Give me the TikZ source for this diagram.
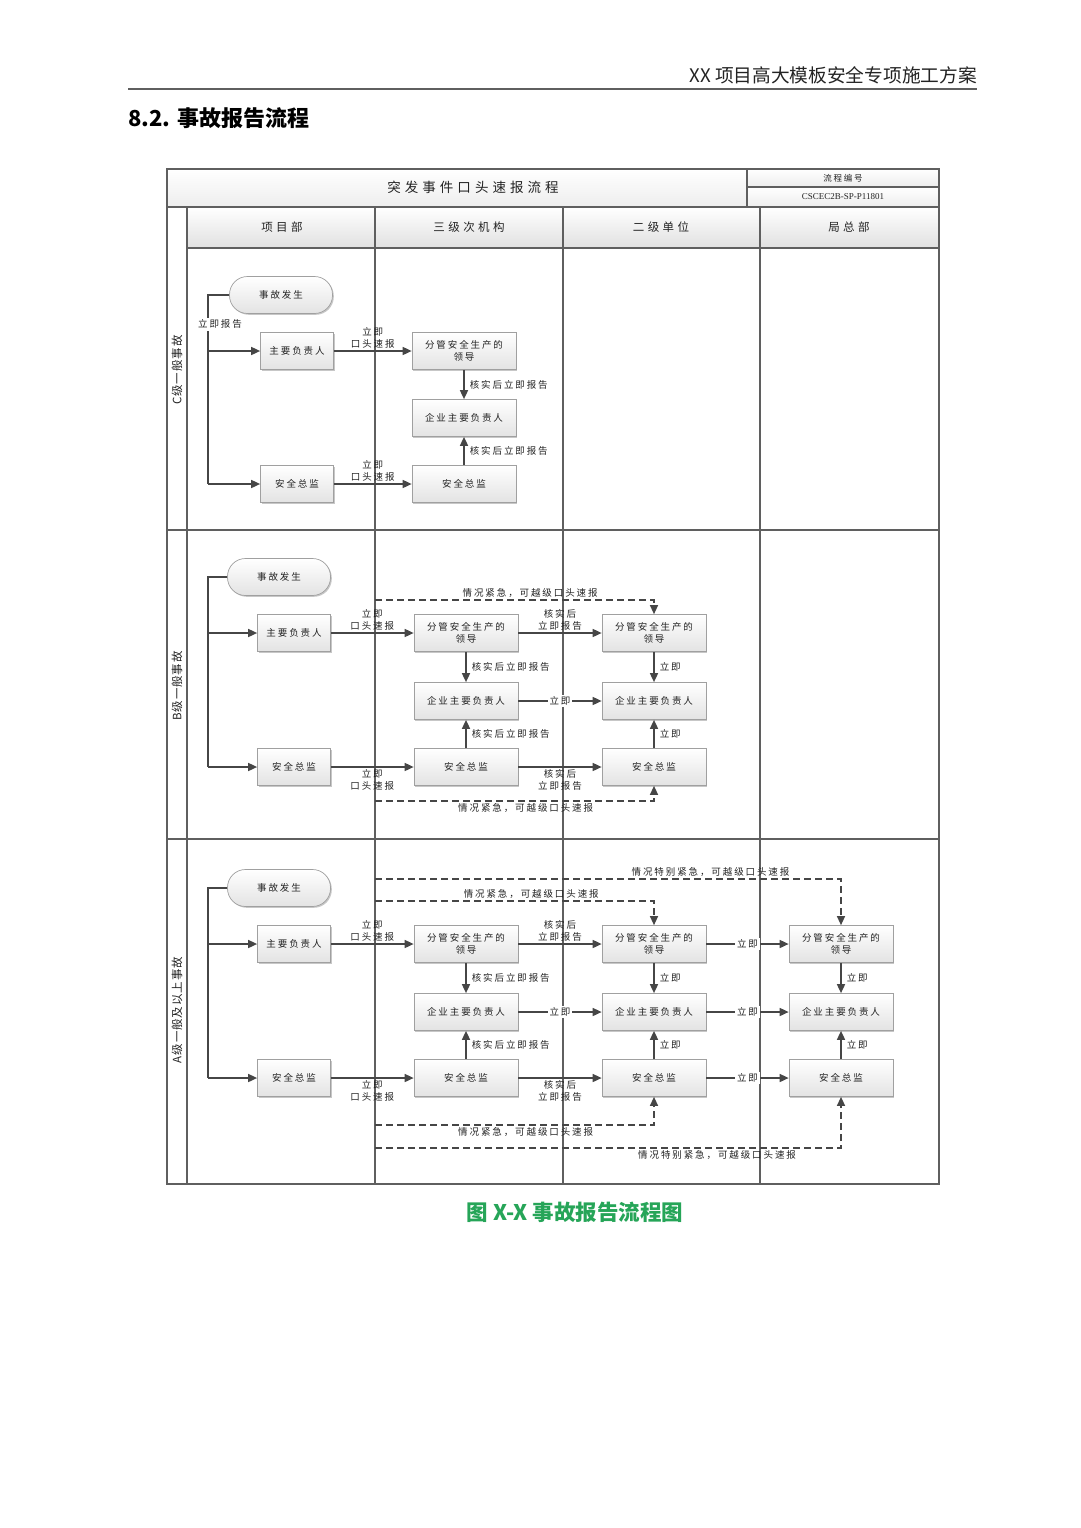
\documentclass[tikz,border=0pt]{standalone}
\usepackage{fontspec}
\setmainfont{Liberation Serif}
\newfontfamily\cjk[LetterSpace=20]{Noto Sans CJK SC}
\newfontfamily\cjkw[LetterSpace=30]{Noto Sans CJK SC}
\newfontfamily\cjkr[LetterSpace=8]{Noto Sans CJK SC}
\newfontfamily\cjkh{Noto Sans CJK SC}
\usetikzlibrary{arrows.meta,shadows,calc}
\definecolor{linec}{RGB}{70,70,70}
\definecolor{tabc}{RGB}{95,95,95}
\definecolor{txt}{RGB}{35,35,35}
\definecolor{boxc}{RGB}{160,160,160}
\definecolor{capgreen}{RGB}{38,165,88}
\tikzset{
  tab/.style={draw=tabc, line width=1.1pt},
  ln/.style={draw=linec, line width=1.6pt},
  arr/.style={ln, -{Triangle[length=9pt,width=8pt]}},
  dsh/.style={draw=linec, line width=1.3pt, dash pattern=on 7pt off 4pt, -{Triangle[length=9pt,width=8pt]}},
  box/.style={draw=boxc, line width=0.7pt, top color=white, bottom color=gray!22,
    minimum width=104pt, minimum height=37pt, inner sep=1pt, align=center,
    font=\cjk\fontsize{9.5}{12}\selectfont, text=txt,
    drop shadow={shadow xshift=1.3pt, shadow yshift=-1.3pt, opacity=0.22, fill=black}},
  sbox/.style={box, minimum width=73pt},
  term/.style={box, rounded corners=18pt, minimum width=103pt},
  labfont/.style={font=\cjk\fontsize{9.5}{12.5}\selectfont, text=txt, align=center},
  labt/.style={labfont, above, inner sep=1.5pt},
  labb/.style={labfont, below, inner sep=1.5pt},
  labr/.style={labfont, right=4pt, inner sep=1pt},
  labi/.style={labfont, fill=white, inner sep=2pt},
  hdrtxt/.style={font=\cjkw\fontsize{11.5}{12}\selectfont, text=txt},
  rowtxt/.style={font=\cjkr\fontsize{11.5}{12}\selectfont, text=txt, rotate=90}
}
\begin{document}
\begin{tikzpicture}[x=1pt,y=-1pt]
\useasboundingbox (0,0) rectangle (1080,1528);
\fill[white] (0,0) rectangle (1080,1528);
% page header
\node[anchor=east, font=\cjkh\fontsize{18.7}{19}\selectfont, text=txt, inner sep=0pt] (hdr) at (977,75) {XX 项目高大模板安全专项施工方案};
\draw[line width=2pt, draw=tabc] (128,89) -- (977,89);
\node[anchor=west, font=\cjkh\bfseries\fontsize{22}{22}\selectfont, text=black, inner sep=0pt] (sec) at (128,118) {8.2. 事故报告流程};
% table fills
\shade[top color=white, bottom color=gray!14] (167,169) rectangle (747,207);
\shade[top color=white, bottom color=gray!14] (747,169) rectangle (939,187);
\shade[top color=white, bottom color=gray!14] (747,187) rectangle (939,207);
\shade[top color=white, bottom color=gray!24] (187,207) rectangle (939,248);
% table lines
\draw[tab] (167,169) rectangle (939,1184);
\draw[tab] (167,207) -- (939,207);
\draw[tab] (747,169) -- (747,207);
\draw[tab] (747,187) -- (939,187);
\draw[tab] (187,248) -- (939,248);
\draw[tab] (187,207) -- (187,1184);
\foreach \x in {375,563,760} \draw[tab] (\x,207) -- (\x,1184);
\draw[tab] (167,530) -- (939,530);
\draw[tab] (167,839) -- (939,839);
% table texts
\node[font=\cjkw\fontsize{13.5}{14}\selectfont, text=txt] (title) at (473,187) {突发事件口头速报流程};
\node[font=\cjk\fontsize{8.5}{9}\selectfont, text=txt] (codeh) at (843,178) {流程编号};
\node[font=\rmfamily\fontsize{9}{9}\selectfont, text=txt] (code) at (843,197) {CSCEC2B-SP-P11801};
\node[hdrtxt] (h1) at (282,227) {项目部};
\node[hdrtxt] (h2) at (469,227) {三级次机构};
\node[hdrtxt] (h3) at (661,227) {二级单位};
\node[hdrtxt] (h4) at (849,227) {局总部};
\node[rowtxt] (rc) at (177,370) {C级一般事故};
\node[rowtxt] (rb) at (177,686) {B级一般事故};
\node[rowtxt] (ra) at (177,1010) {A级一般及以上事故};

% ================= C =================
\node[term] (cS) at (281,295) {事故发生};
\node[sbox] (cZY) at (297,351) {主要负责人};
\node[sbox] (cAQ) at (297,484) {安全总监};
\node[box] (c3FG) at (464,351) {分管安全生产的\\领导};
\node[box] (c3QY) at (464,418) {企业主要负责人};
\node[box] (c3AQ) at (464,484) {安全总监};
\coordinate (cL1) at (208,351);
\coordinate (cL2) at (208,484);
\draw[ln] (cS.west) -| node[labi, pos=0.577, xshift=12pt] {立即报告} (cL2);
\draw[arr] (cL1) -- (cZY.west);
\draw[arr] (cL2) -- (cAQ.west);
\draw[arr] (cZY) -- node[labt] {立即\\口头速报} (c3FG);
\draw[arr] (cAQ) -- node[labt] {立即\\口头速报} (c3AQ);
\draw[arr] (c3FG) -- node[labr] {核实后立即报告} (c3QY);
\draw[arr] (c3AQ) -- node[labr] {核实后立即报告} (c3QY);

% ================= B =================
\node[term] (bS) at (279,577) {事故发生};
\node[sbox] (bZY) at (294,633) {主要负责人};
\node[sbox] (bAQ) at (294,767) {安全总监};
\node[box] (b3FG) at (466,633) {分管安全生产的\\领导};
\node[box] (b3QY) at (466,701) {企业主要负责人};
\node[box] (b3AQ) at (466,767) {安全总监};
\node[box] (b2FG) at (654,633) {分管安全生产的\\领导};
\node[box] (b2QY) at (654,701) {企业主要负责人};
\node[box] (b2AQ) at (654,767) {安全总监};
\coordinate (bL1) at (208,633);
\coordinate (bL2) at (208,767);
\draw[ln] (bS.west) -| (bL2);
\draw[arr] (bL1) -- (bZY.west);
\draw[arr] (bL2) -- (bAQ.west);
\draw[arr] (bZY) -- node[labt] {立即\\口头速报} (b3FG);
\draw[arr] (bAQ) -- node[labb] {立即\\口头速报} (b3AQ);
\draw[arr] (b3FG) -- node[labr] {核实后立即报告} (b3QY);
\draw[arr] (b3AQ) -- node[labr] {核实后立即报告} (b3QY);
\draw[arr] (b3FG) -- node[labt] {核实后\\立即报告} (b2FG);
\draw[arr] (b3QY) -- node[labi] {立即} (b2QY);
\draw[arr] (b3AQ) -- node[labb] {核实后\\立即报告} (b2AQ);
\draw[arr] (b2FG) -- node[labr] {立即} (b2QY);
\draw[arr] (b2AQ) -- node[labr] {立即} (b2QY);
\coordinate (bD1) at (375,600);
\coordinate (bD2) at (375,801);
\draw[dsh] (bD1) -| node[labt, pos=0.278] {情况紧急，可越级口头速报} (b2FG.north);
\draw[dsh] (bD2) -| node[labb, pos=0.27] {情况紧急，可越级口头速报} (b2AQ.south);

% ================= A =================
\node[term] (aS) at (279,888) {事故发生};
\node[sbox] (aZY) at (294,944) {主要负责人};
\node[sbox] (aAQ) at (294,1078) {安全总监};
\node[box] (a3FG) at (466,944) {分管安全生产的\\领导};
\node[box] (a3QY) at (466,1012) {企业主要负责人};
\node[box] (a3AQ) at (466,1078) {安全总监};
\node[box] (a2FG) at (654,944) {分管安全生产的\\领导};
\node[box] (a2QY) at (654,1012) {企业主要负责人};
\node[box] (a2AQ) at (654,1078) {安全总监};
\node[box] (a1FG) at (841,944) {分管安全生产的\\领导};
\node[box] (a1QY) at (841,1012) {企业主要负责人};
\node[box] (a1AQ) at (841,1078) {安全总监};
\coordinate (aL1) at (208,944);
\coordinate (aL2) at (208,1078);
\draw[ln] (aS.west) -| (aL2);
\draw[arr] (aL1) -- (aZY.west);
\draw[arr] (aL2) -- (aAQ.west);
\draw[arr] (aZY) -- node[labt] {立即\\口头速报} (a3FG);
\draw[arr] (aAQ) -- node[labb] {立即\\口头速报} (a3AQ);
\draw[arr] (a3FG) -- node[labr] {核实后立即报告} (a3QY);
\draw[arr] (a3AQ) -- node[labr] {核实后立即报告} (a3QY);
\draw[arr] (a3FG) -- node[labt] {核实后\\立即报告} (a2FG);
\draw[arr] (a3QY) -- node[labi] {立即} (a2QY);
\draw[arr] (a3AQ) -- node[labb] {核实后\\立即报告} (a2AQ);
\draw[arr] (a2FG) -- node[labr] {立即} (a2QY);
\draw[arr] (a2AQ) -- node[labr] {立即} (a2QY);
\draw[arr] (a2FG) -- node[labi] {立即} (a1FG);
\draw[arr] (a2QY) -- node[labi] {立即} (a1QY);
\draw[arr] (a2AQ) -- node[labi] {立即} (a1AQ);
\draw[arr] (a1FG) -- node[labr] {立即} (a1QY);
\draw[arr] (a1AQ) -- node[labr] {立即} (a1QY);
\coordinate (aD1) at (375,879);
\coordinate (aD2) at (375,901);
\coordinate (aD3) at (375,1125);
\coordinate (aD4) at (375,1148);
\draw[dsh] (aD1) -| node[labt, pos=0.36] {情况特别紧急，可越级口头速报} (a1FG.north);
\draw[dsh] (aD2) -| node[labt, pos=0.28] {情况紧急，可越级口头速报} (a2FG.north);
\draw[dsh] (aD3) -| node[labb, pos=0.27] {情况紧急，可越级口头速报} (a2AQ.south);
\draw[dsh] (aD4) -| node[labb, pos=0.367] {情况特别紧急，可越级口头速报} (a1AQ.south);

% caption
\node[font=\cjkh\bfseries\fontsize{21.5}{22}\selectfont, text=capgreen] (cap) at (575,1212) {图 X-X 事故报告流程图};
\end{tikzpicture}
\end{document}
